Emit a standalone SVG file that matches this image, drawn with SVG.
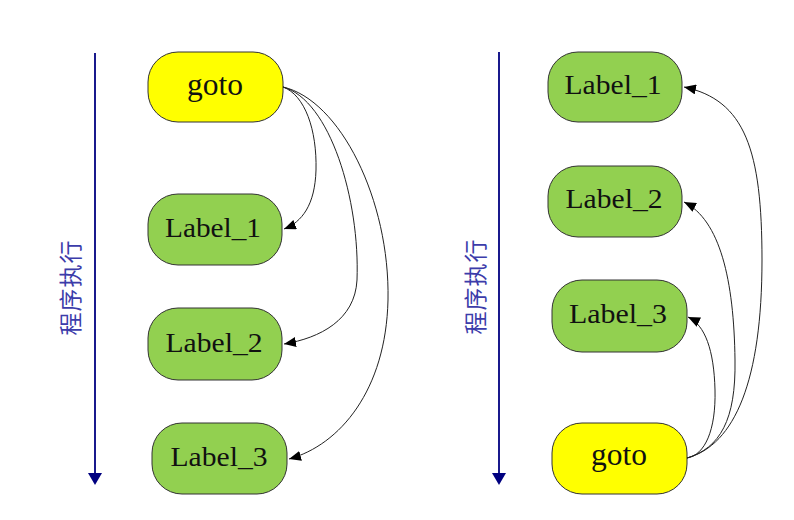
<svg xmlns="http://www.w3.org/2000/svg" width="794" height="520" viewBox="0 0 794 520">
<style>
.node rect{stroke:#333;stroke-width:1}
.g rect{fill:#92d050}
.y rect{fill:#ffff00}
.node text{font-family:"Liberation Serif",serif;fill:#111;text-anchor:middle}
.lbl{font-size:27px}
.gt{font-size:31px}
.edge{fill:none;stroke:#222;stroke-width:1}
.axis{stroke:#000080;stroke-width:1.8}
.cn{font-family:"Noto Sans CJK SC",sans-serif;font-size:23px;fill:#3c3caa;text-anchor:middle}
</style>
<defs>
<marker id="ah" markerUnits="userSpaceOnUse" markerWidth="13" markerHeight="10" refX="12" refY="5" orient="auto">
<path d="M0,0 L12,5 L0,10 Z" fill="#000"/>
</marker>
</defs>
<rect width="794" height="520" fill="#fff"/>
<g id="axis-left">
<line class="axis" x1="95" y1="53" x2="95" y2="474"/>
<path d="M88,473 L102,473 L95,485 Z" fill="#000080"/>
<text class="cn" transform="translate(71,288) rotate(-90)" x="0" y="8" textLength="95">程序执行</text>
</g>
<g id="axis-right">
<line class="axis" x1="499" y1="52" x2="499" y2="474"/>
<path d="M492,473 L506,473 L499,485 Z" fill="#000080"/>
<text class="cn" transform="translate(476,287) rotate(-90)" x="0" y="8" textLength="95">程序执行</text>
</g>
<g id="L-goto" class="node y"><rect x="148" y="52" width="135" height="70" rx="30"/><text class="gt" x="215" y="95" textLength="56" lengthAdjust="spacingAndGlyphs">goto</text></g>
<g id="L-label1" class="node g"><rect x="148" y="194" width="134" height="71" rx="30"/><text class="lbl" x="213" y="237" textLength="96" lengthAdjust="spacingAndGlyphs">Label_1</text></g>
<g id="L-label2" class="node g"><rect x="148" y="308" width="134" height="72" rx="30"/><text class="lbl" x="214" y="352" textLength="97" lengthAdjust="spacingAndGlyphs">Label_2</text></g>
<g id="L-label3" class="node g"><rect x="152" y="423" width="135" height="71" rx="30"/><text class="lbl" x="219" y="466" textLength="97" lengthAdjust="spacingAndGlyphs">Label_3</text></g>
<g id="R-label1" class="node g"><rect x="548" y="52" width="134" height="70" rx="30"/><text class="lbl" x="613" y="94" textLength="97" lengthAdjust="spacingAndGlyphs">Label_1</text></g>
<g id="R-label2" class="node g"><rect x="548" y="166" width="134" height="71" rx="30"/><text class="lbl" x="614" y="208" textLength="97" lengthAdjust="spacingAndGlyphs">Label_2</text></g>
<g id="R-label3" class="node g"><rect x="552" y="280" width="135" height="72" rx="30"/><text class="lbl" x="618" y="323" textLength="98" lengthAdjust="spacingAndGlyphs">Label_3</text></g>
<g id="R-goto" class="node y"><rect x="552" y="423" width="135" height="71" rx="30"/><text class="gt" x="619" y="465" textLength="56" lengthAdjust="spacingAndGlyphs">goto</text></g>
<g id="connectors">
<path class="edge" marker-end="url(#ah)" d="M283,87 C305,95 317,130 316,170 C315,205 302,222 284,229"/>
<path class="edge" marker-end="url(#ah)" d="M283,87 C330,100 360,200 357,280 C355,320 320,338 284,344"/>
<path class="edge" marker-end="url(#ah)" d="M283,87 C340,100 390,200 388,300 C386,390 340,445 289,459"/>
<path class="edge" marker-end="url(#ah)" d="M687,458 C705,455 716,430 715,390 C714,350 705,325 688,317"/>
<path class="edge" marker-end="url(#ah)" d="M687,458 C720,448 736,420 735,360 C734,280 720,220 684,202"/>
<path class="edge" marker-end="url(#ah)" d="M687,458 C735,445 762,380 762,260 C762,150 745,100 684,87"/>
</g>
</svg>
